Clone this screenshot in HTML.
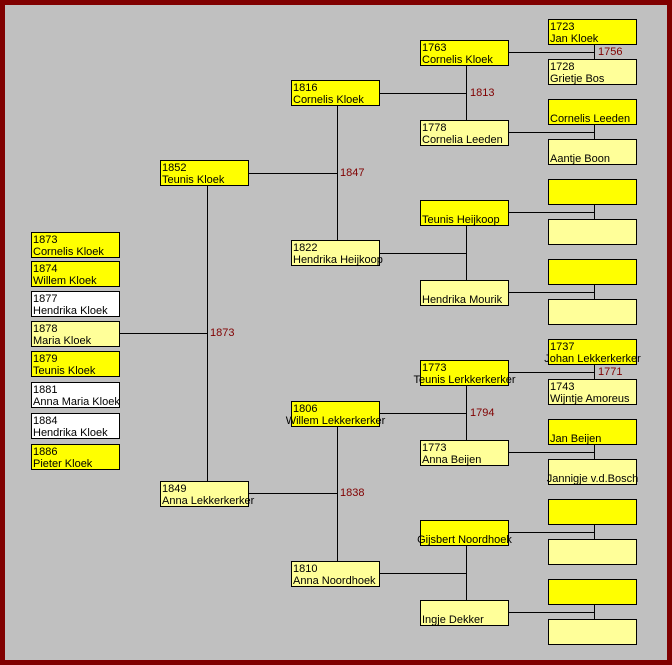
<!DOCTYPE html>
<html><head><meta charset="utf-8"><style>
*{margin:0;padding:0;box-sizing:border-box}
html,body{width:672px;height:665px;overflow:hidden}
body{background:#c0c0c0;border:5px solid #800000;position:relative;font-family:"Liberation Sans",Arial,sans-serif;font-size:11px;color:#000}
.b{position:absolute;width:89px;height:26px;border:1px solid #000;padding:1px 0 0 1px;line-height:12px;white-space:nowrap}
.y{background:#ffff00}.l{background:#ffff99}.w{background:#fff}
.c div{display:flex;justify-content:center;margin-left:-1px}
.h,.v{position:absolute;background:#000}
.h{height:1px}.v{width:1px}
.m{position:absolute;color:#800000;font-size:11px;line-height:12px}
</style></head><body>
<div style="position:absolute;left:-5px;top:-5px;width:672px;height:665px">

<div class="b y" style="left:31px;top:232px">1873<br>Cornelis Kloek</div>
<div class="b y" style="left:31px;top:261px">1874<br>Willem Kloek</div>
<div class="b w" style="left:31px;top:291px">1877<br>Hendrika Kloek</div>
<div class="b l" style="left:31px;top:321px">1878<br>Maria Kloek</div>
<div class="b y" style="left:31px;top:351px">1879<br>Teunis Kloek</div>
<div class="b w" style="left:31px;top:382px">1881<br>Anna Maria Kloek</div>
<div class="b w" style="left:31px;top:413px">1884<br>Hendrika Kloek</div>
<div class="b y" style="left:31px;top:444px">1886<br>Pieter Kloek</div>

<div class="h" style="left:120px;top:333px;width:88px"></div>
<div class="v" style="left:207px;top:186px;height:295px"></div>
<div class="m" style="left:210px;top:327px">1873</div>

<div class="b y" style="left:160px;top:160px">1852<br>Teunis Kloek</div>
<div class="b l" style="left:160px;top:481px">1849<br>Anna Lekkerkerker</div>

<div class="h" style="left:249px;top:173px;width:88px"></div>
<div class="v" style="left:337px;top:106px;height:134px"></div>
<div class="m" style="left:340px;top:167px">1847</div>
<div class="h" style="left:249px;top:493px;width:88px"></div>
<div class="v" style="left:337px;top:426px;height:135px"></div>
<div class="m" style="left:340px;top:487px">1838</div>

<div class="b y" style="left:291px;top:80px">1816<br>Cornelis Kloek</div>
<div class="b l" style="left:291px;top:240px">1822<br>Hendrika Heijkoop</div>
<div class="b y c" style="left:291px;top:401px">1806<div>Willem Lekkerkerker</div></div>
<div class="b l" style="left:291px;top:561px">1810<br>Anna Noordhoek</div>

<div class="h" style="left:380px;top:93px;width:87px"></div>
<div class="v" style="left:466px;top:66px;height:54px"></div>
<div class="m" style="left:470px;top:87px">1813</div>
<div class="h" style="left:380px;top:253px;width:87px"></div>
<div class="v" style="left:466px;top:226px;height:54px"></div>
<div class="h" style="left:380px;top:413px;width:87px"></div>
<div class="v" style="left:466px;top:386px;height:54px"></div>
<div class="m" style="left:470px;top:407px">1794</div>
<div class="h" style="left:380px;top:573px;width:87px"></div>
<div class="v" style="left:466px;top:546px;height:54px"></div>

<div class="b y" style="left:420px;top:40px">1763<br>Cornelis Kloek</div>
<div class="b l" style="left:420px;top:120px">1778<br>Cornelia Leeden</div>
<div class="b y" style="left:420px;top:200px"><br>Teunis Heijkoop</div>
<div class="b l" style="left:420px;top:280px"><br>Hendrika Mourik</div>
<div class="b y c" style="left:420px;top:360px">1773<div>Teunis Lerkkerkerker</div></div>
<div class="b l" style="left:420px;top:440px">1773<br>Anna Beijen</div>
<div class="b y c" style="left:420px;top:520px"><br><div>Gijsbert Noordhoek</div></div>
<div class="b l" style="left:420px;top:600px"><br>Ingje Dekker</div>

<div class="h" style="left:509px;top:52px;width:86px"></div><div class="v" style="left:594px;top:44px;height:15px"></div>
<div class="m" style="left:598px;top:46px">1756</div>
<div class="h" style="left:509px;top:132px;width:86px"></div><div class="v" style="left:594px;top:124px;height:15px"></div>
<div class="h" style="left:509px;top:212px;width:86px"></div><div class="v" style="left:594px;top:204px;height:15px"></div>
<div class="h" style="left:509px;top:292px;width:86px"></div><div class="v" style="left:594px;top:284px;height:15px"></div>
<div class="h" style="left:509px;top:372px;width:86px"></div><div class="v" style="left:594px;top:364px;height:15px"></div>
<div class="m" style="left:598px;top:366px">1771</div>
<div class="h" style="left:509px;top:452px;width:86px"></div><div class="v" style="left:594px;top:444px;height:15px"></div>
<div class="h" style="left:509px;top:532px;width:86px"></div><div class="v" style="left:594px;top:524px;height:15px"></div>
<div class="h" style="left:509px;top:612px;width:86px"></div><div class="v" style="left:594px;top:604px;height:15px"></div>

<div class="b y" style="left:548px;top:19px">1723<br>Jan Kloek</div>
<div class="b l" style="left:548px;top:59px">1728<br>Grietje Bos</div>
<div class="b y" style="left:548px;top:99px"><br>Cornelis Leeden</div>
<div class="b l" style="left:548px;top:139px"><br>Aantje Boon</div>
<div class="b y" style="left:548px;top:179px"></div>
<div class="b l" style="left:548px;top:219px"></div>
<div class="b y" style="left:548px;top:259px"></div>
<div class="b l" style="left:548px;top:299px"></div>
<div class="b y c" style="left:548px;top:339px">1737<div>Johan Lekkerkerker</div></div>
<div class="b l" style="left:548px;top:379px">1743<br>Wijntje Amoreus</div>
<div class="b y" style="left:548px;top:419px"><br>Jan Beijen</div>
<div class="b l c" style="left:548px;top:459px"><br><div>Jannigje v.d.Bosch</div></div>
<div class="b y" style="left:548px;top:499px"></div>
<div class="b l" style="left:548px;top:539px"></div>
<div class="b y" style="left:548px;top:579px"></div>
<div class="b l" style="left:548px;top:619px"></div>
</div>
</body></html>
